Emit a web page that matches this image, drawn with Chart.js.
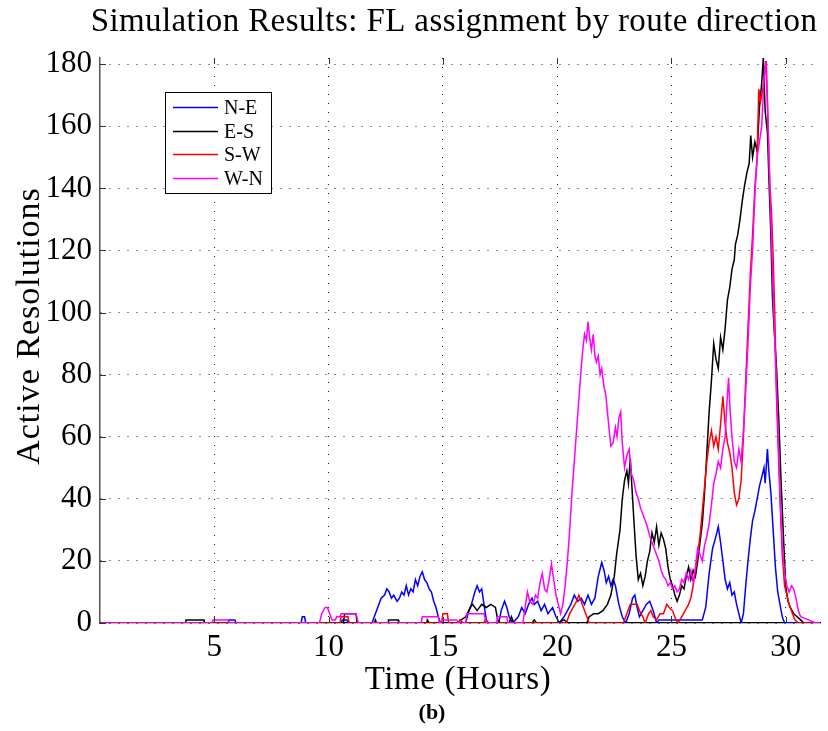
<!DOCTYPE html>
<html>
<head>
<meta charset="utf-8">
<script src="https://cdn.jsdelivr.net/npm/chart.js@4.4.1/dist/chart.umd.min.js"></script>
<style>
  html, body { margin: 0; padding: 0; background: #fff; }
  #wrap { width: 828px; height: 731px; }
</style>
</head>
<body>
<div id="wrap"><canvas id="sim-chart" width="828" height="731"></canvas></div>
<script>
// tick labels
const xTicks = [5, 10, 15, 20, 25, 30];
const yTicks = [0, 20, 40, 60, 80, 100, 120, 140, 160, 180];

const seriesNames = ['N-E', 'E-S', 'S-W', 'W-N'];
const seriesColors = ['#0000ff', '#000000', '#ff0000', '#ff00ff'];

// N-E (hours, active resolutions)
const neT = [0.05, 5.6, 5.65, 5.9, 5.95, 8.8, 8.85, 8.95, 9.0, 10.55, 10.6, 10.8, 10.85, 11.9, 12.0, 12.15, 12.3, 12.45, 12.55, 12.65, 12.75, 12.85, 13.0, 13.1, 13.2, 13.3, 13.4, 13.5, 13.6, 13.7, 13.8, 13.9, 14.0, 14.1, 14.2, 14.3, 14.4, 14.5, 14.6, 14.7, 14.8, 14.9, 16.0, 16.1, 16.25, 16.4, 16.5, 16.6, 16.7, 16.8, 16.9, 17.0, 17.45, 17.55, 17.7, 17.8, 17.9, 18.05, 18.3, 18.45, 18.6, 18.75, 18.9, 19.0, 19.15, 19.3, 19.45, 19.6, 19.8, 19.95, 20.1, 20.3, 20.45, 20.6, 20.75, 20.9, 21.05, 21.2, 21.35, 21.5, 21.65, 21.8, 21.95, 22.05, 22.15, 22.25, 22.35, 22.45, 22.55, 22.7, 22.85, 23.0, 23.15, 23.3, 23.4, 23.5, 23.6, 23.75, 23.9, 24.05, 24.2, 24.35, 24.45, 26.35, 26.5, 26.65, 26.8, 26.95, 27.05, 27.15, 27.25, 27.35, 27.45, 27.55, 27.65, 27.75, 27.85, 27.95, 28.05, 28.15, 28.25, 28.35, 28.45, 28.55, 28.65, 28.75, 28.85, 28.95, 29.05, 29.1, 29.2, 29.25, 29.35, 29.45, 29.55, 29.65, 29.75, 29.85, 29.95, 31.5];
const neV = [0, 0, 1, 1, 0, 0, 2, 2, 0, 0, 1, 1, 0, 0, 2, 5, 8, 9, 11, 10, 8, 9, 7, 8, 10, 9, 12, 9, 11, 10, 14, 12, 15, 16.5, 14, 13, 11, 10, 7, 5, 2, 0, 0, 3, 6, 10, 12, 10, 11, 6, 1, 0, 0, 4, 7, 5, 2, 0, 2, 5, 3, 6, 8, 6, 7, 4, 6, 3, 5, 2, 0, 2, 4, 6, 9, 7, 8, 6, 9, 6, 8, 15, 19.5, 17, 13, 15, 12, 14, 12, 6, 2, 0, 3, 8, 9, 5, 2, 4, 6, 7, 4, 0, 1, 1, 5, 16, 24, 28, 31, 26, 20, 14, 11, 13, 9, 10, 6, 3, 0, 3, 12, 20, 27, 33, 36, 40, 44, 47, 50, 45, 56, 50, 42, 30, 18, 10, 6, 2, 0, 0];

// E-S
const esT = [0.05, 3.75, 3.76, 4.55, 4.56, 10.65, 10.7, 11.2, 11.25, 12.0, 12.05, 12.1, 12.6, 12.62, 13.05, 13.07, 14.3, 14.32, 14.4, 15.6, 15.8, 16.0, 16.2, 16.3, 16.5, 16.7, 16.9, 17.1, 17.3, 17.4, 17.5, 17.9, 18.0, 18.1, 18.9, 19.0, 19.1, 20.0, 20.3, 20.5, 21.3, 21.4, 21.6, 21.8, 22.0, 22.2, 22.35, 22.5, 22.6, 22.75, 22.85, 22.95, 23.05, 23.12, 23.2, 23.27, 23.35, 23.45, 23.55, 23.65, 23.75, 23.85, 23.95, 24.05, 24.15, 24.25, 24.35, 24.45, 24.55, 24.65, 24.75, 24.85, 24.95, 25.05, 25.15, 25.25, 25.35, 25.45, 25.55, 25.65, 25.75, 25.85, 25.95, 26.05, 26.15, 26.25, 26.35, 26.45, 26.55, 26.65, 26.75, 26.85, 26.95, 27.05, 27.15, 27.25, 27.35, 27.45, 27.55, 27.65, 27.75, 27.8, 27.9, 28.0, 28.1, 28.2, 28.3, 28.4, 28.47, 28.55, 28.65, 28.75, 28.85, 28.95, 29.02, 29.1, 29.2, 29.28, 29.35, 29.42, 29.5, 29.6, 29.7, 29.8, 29.9, 30.0, 30.1, 30.2, 30.35, 30.5, 30.65, 30.8, 31.5];
const esV = [0, 0, 1, 1, 0, 0, 3, 3, 0, 0, 1, 0, 0, 1, 1, 0, 0, 1, 0, 0, 1, 2, 5, 6, 4, 6, 5, 6, 5, 1, 0, 0, 2, 0, 0, 1, 0, 0, 1, 0, 0, 2, 3, 3, 4, 6, 9, 15, 22, 30, 40, 46, 49, 45, 53, 44, 34, 22, 14, 16, 12, 15, 20, 23, 29, 26, 31, 25, 29, 27, 24, 18, 14, 12, 9, 7, 9, 12, 11, 15, 18, 14, 17, 15, 20, 26, 32, 42, 55, 68, 78, 90, 85, 82, 92, 88, 95, 104, 108, 114, 117, 122, 125, 130, 136, 141, 145, 148, 157, 150, 155, 152, 166, 174, 182, 165, 158, 140, 125, 105, 94, 82, 65, 45, 28, 12, 7, 5, 3, 2, 1, 0, 0];

// S-W
const swT = [0.05, 10.5, 10.55, 10.85, 10.9, 14.95, 15.0, 15.2, 15.25, 15.7, 15.75, 15.9, 16.8, 16.85, 17.0, 20.4, 20.55, 20.7, 20.85, 20.95, 21.05, 21.15, 21.3, 21.4, 22.9, 23.0, 23.1, 23.2, 23.35, 23.5, 23.6, 23.75, 23.85, 24.0, 24.1, 24.2, 24.35, 24.5, 24.65, 24.8, 24.9, 25.05, 25.2, 25.3, 25.45, 25.6, 25.75, 25.85, 25.95, 26.05, 26.15, 26.25, 26.35, 26.45, 26.55, 26.65, 26.75, 26.85, 26.95, 27.05, 27.15, 27.25, 27.35, 27.45, 27.55, 27.65, 27.75, 27.85, 27.95, 28.05, 28.15, 28.25, 28.35, 28.45, 28.55, 28.65, 28.75, 28.82, 28.9, 29.0, 29.08, 29.15, 29.22, 29.3, 29.38, 29.45, 29.52, 29.6, 29.68, 29.75, 29.85, 29.95, 30.05, 30.15, 30.3, 30.4, 30.55, 31.5];
const swV = [0, 0, 2, 2, 0, 0, 3, 3, 0, 0, 1, 0, 0, 1, 0, 0, 3, 5, 7, 9, 7, 5, 2, 0, 0, 2, 4, 6, 6, 6, 4, 2, 0, 3, 4, 2, 1, 3, 3, 6, 5, 4, 1, 0, 2, 4, 6, 8, 12, 17, 22, 28, 36, 44, 52, 58, 62, 57, 60, 56, 64, 73, 64, 58, 55, 50, 42, 38, 40, 46, 60, 78, 95, 112, 125, 140, 150, 172, 168, 172, 178, 181, 162, 142, 132, 118, 100, 72, 55, 40, 22, 12, 9, 6, 3, 1, 0, 0];

// W-N
const wnT = [0.05, 4.9, 4.95, 5.6, 5.65, 9.6, 9.7, 9.85, 9.95, 10.05, 10.15, 10.3, 10.35, 10.5, 10.55, 11.2, 11.3, 14.05, 14.1, 14.8, 14.85, 15.0, 15.6, 15.7, 16.0, 16.05, 16.8, 16.9, 17.35, 17.4, 17.8, 17.85, 18.5, 18.6, 18.7, 18.8, 18.95, 19.05, 19.15, 19.25, 19.35, 19.45, 19.55, 19.65, 19.75, 19.85, 19.95, 20.05, 20.15, 20.25, 20.35, 20.45, 20.55, 20.65, 20.75, 20.85, 20.95, 21.05, 21.12, 21.2, 21.28, 21.35, 21.42, 21.5, 21.58, 21.65, 21.72, 21.8, 21.88, 21.95, 22.05, 22.12, 22.2, 22.28, 22.35, 22.45, 22.55, 22.62, 22.7, 22.78, 22.85, 22.95, 23.05, 23.15, 23.25, 23.35, 23.45, 23.55, 23.65, 23.75, 23.85, 23.95, 24.05, 24.15, 24.25, 24.35, 24.45, 24.55, 24.65, 24.75, 24.85, 24.95, 25.05, 25.15, 25.25, 25.35, 25.45, 25.55, 25.65, 25.75, 25.85, 25.95, 26.05, 26.15, 26.25, 26.35, 26.45, 26.55, 26.65, 26.75, 26.85, 26.95, 27.05, 27.15, 27.25, 27.35, 27.42, 27.5, 27.57, 27.65, 27.75, 27.85, 27.95, 28.05, 28.15, 28.25, 28.35, 28.45, 28.55, 28.65, 28.75, 28.85, 28.95, 29.05, 29.12, 29.2, 29.27, 29.33, 29.4, 29.48, 29.55, 29.65, 29.75, 29.85, 29.95, 30.05, 30.15, 30.25, 30.35, 30.45, 30.55, 30.65, 31.0, 31.3, 31.5];
const wnV = [0, 0, 1, 1, 0, 0, 3, 5, 5, 3, 1, 1, 2, 2, 3, 3, 0, 0, 2, 2, 0, 1, 1, 0, 0, 3, 3, 0, 0, 2, 2, 0, 0, 5, 10, 7, 6, 9, 8, 13, 16, 11, 10, 14, 19, 14, 9, 6, 3, 6, 12, 20, 30, 42, 52, 62, 72, 82, 88, 93, 91, 97, 92, 88, 93, 86, 84, 86, 80, 82, 76, 74, 68, 62, 57, 58, 63, 60, 66, 68, 58, 50, 54, 56, 48, 46, 42, 40, 37, 35, 33, 31, 28, 26, 24, 22, 20, 17, 15, 14, 12, 13, 11, 12, 10, 11, 14, 13, 16, 14, 17, 13, 18, 24, 22, 20, 25, 28, 32, 38, 45, 48, 52, 50, 56, 60, 70, 79, 68, 60, 52, 50, 56, 52, 62, 75, 90, 108, 120, 138, 150, 155, 160, 175, 181, 168, 150, 135, 118, 100, 85, 65, 42, 25, 16, 12, 10, 12, 11, 8, 4, 2, 1, 0, 0];

const allT = [neT, esT, swT, wnT];
const allV = [neV, esV, swV, wnV];

const serif = '"Liberation Serif", "DejaVu Serif", serif';

// titles, legend and caption drawn straight onto the canvas
const textPlugin = {
  id: 'texts',
  afterDraw(chart) {
    const ctx = chart.ctx;
    const area = chart.chartArea;
    ctx.save();
    ctx.fillStyle = '#000';
    ctx.textBaseline = 'middle';
    ctx.textAlign = 'center';
    ctx.font = '33px ' + serif;
    ctx.letterSpacing = '0.4px';
    ctx.fillText('Simulation Results: FL assignment by route direction', 454, 22);
    ctx.letterSpacing = '0.6px';
    ctx.fillText('Time (Hours)', 458, 680);
    ctx.letterSpacing = '0px';
    ctx.font = 'bold 22px ' + serif;
    ctx.fillText('(b)', 432, 713);
    ctx.save();
    ctx.translate(30, 326);
    ctx.rotate(-Math.PI / 2);
    ctx.font = '34px ' + serif;
    ctx.letterSpacing = '1px';
    ctx.fillText('Active Resolutions', 0, 0);
    ctx.restore();
    ctx.letterSpacing = '0px';

    // legend
    ctx.fillStyle = '#fff';
    ctx.fillRect(165, 92, 106, 101);
    ctx.strokeStyle = '#000';
    ctx.lineWidth = 1;
    ctx.strokeRect(165.5, 92.5, 106, 101);
    ctx.textAlign = 'left';
    ctx.font = '20px ' + serif;
    seriesNames.forEach((name, i) => {
      const y = Math.round(107 + i * 23.5) + 0.5;
      ctx.strokeStyle = seriesColors[i];
      ctx.lineWidth = 1.3;
      ctx.beginPath();
      ctx.moveTo(173, y);
      ctx.lineTo(218, y);
      ctx.stroke();
      ctx.fillStyle = '#000';
      ctx.fillText(name, 224, y + 1);
    });

    // inward tick marks
    ctx.strokeStyle = '#333';
    ctx.lineWidth = 1;
    const ys = chart.scales.y;
    yTicks.forEach(v => {
      const py = Math.round(ys.getPixelForValue(v)) + 0.5;
      ctx.beginPath();
      ctx.moveTo(area.left, py);
      ctx.lineTo(area.left + 6, py);
      ctx.stroke();
    });
    const xs = chart.scales.x;
    xTicks.forEach(v => {
      const px = Math.round(xs.getPixelForValue(v)) + 0.5;
      ctx.beginPath();
      ctx.moveTo(px, area.bottom);
      ctx.lineTo(px, area.bottom - 6);
      ctx.moveTo(px, area.top);
      ctx.lineTo(px, area.top + 6);
      ctx.stroke();
    });
    ctx.restore();
  }
};

new Chart(document.getElementById('sim-chart').getContext('2d'), {
  type: 'line',
  data: {
    datasets: seriesNames.map((name, i) => ({
      label: name,
      data: allT[i].map((t, j) => ({ x: t, y: allV[i][j] })),
      borderColor: seriesColors[i],
      borderWidth: 1.5,
      pointRadius: 0,
      tension: 0,
      fill: false,
      order: 4 - i
    }))
  },
  options: {
    responsive: false,
    animation: false,
    parsing: false,
    layout: { padding: { top: 58, right: 8, left: 0, bottom: 0 } },
    plugins: { legend: { display: false }, tooltip: { enabled: false } },
    scales: {
      x: {
        type: 'linear',
        min: 0,
        max: 31.5,
        afterBuildTicks(scale) { scale.ticks = xTicks.map(v => ({ value: v })); },
        afterFit(scale) { scale.height = 108; },
        ticks: { color: '#000', font: { family: serif, size: 31 }, padding: 6, maxRotation: 0 },
        grid: { color: '#222', lineWidth: 1, drawTicks: false },
        border: { display: true, color: '#000', width: 1.2, dash: [1, 8] }
      },
      y: {
        type: 'linear',
        min: 0,
        max: 182,
        afterBuildTicks(scale) { scale.ticks = yTicks.map(v => ({ value: v })); },
        afterFit(scale) { scale.width = 100; },
        ticks: { color: '#000', font: { family: serif, size: 31 }, padding: 8 },
        grid: { color: '#222', lineWidth: 1, drawTicks: false },
        border: { display: true, color: '#555', width: 1.5, dash: [1, 8] }
      }
    }
  },
  plugins: [textPlugin]
});
</script>
</body>
</html>
